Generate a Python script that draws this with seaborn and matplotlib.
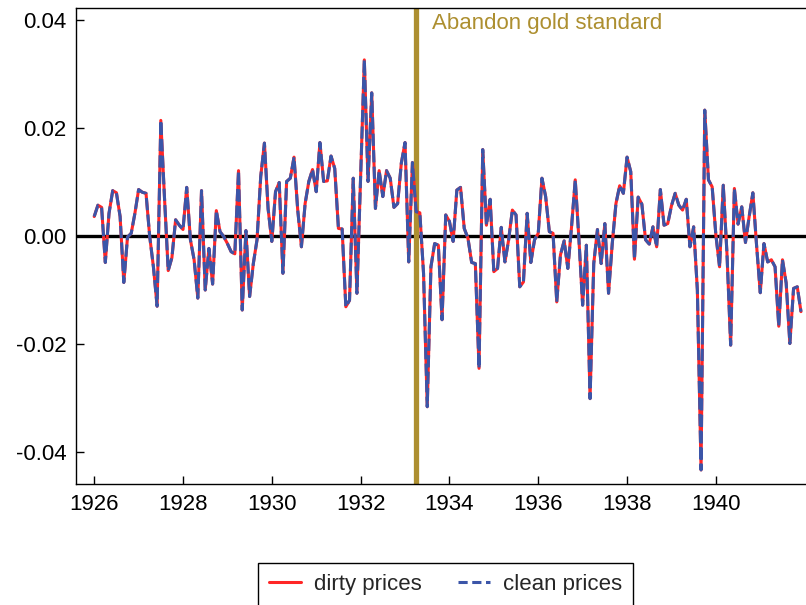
import numpy as np
import pandas as pd
import matplotlib
matplotlib.use('Agg')
import matplotlib.pyplot as plt
from matplotlib.lines import Line2D
import seaborn as sns

# Monthly inflation-style series, Jan 1926 - Dec 1941
dirty_prices = [
    0.0036, 0.0057, 0.0053, -0.0049, 0.0042, 0.0084, 0.0080, 0.0036, -0.0086, -0.0002, 0.0005, 0.0042,
    0.0086, 0.0081, 0.0079, -0.0001, -0.0057, -0.0130, 0.0214, 0.0070, -0.0064, -0.0040, 0.0030, 0.0020,
    0.0012, 0.0090, -0.0007, -0.0044, -0.0115, 0.0084, -0.0100, -0.0023, -0.0089, 0.0047, 0.0008, -0.0001,
    -0.0014, -0.0029, -0.0033, 0.0121, -0.0137, 0.0010, -0.0112, -0.0051, -0.0007, 0.0110, 0.0172, 0.0050,
    -0.0010, 0.0082, 0.0099, -0.0069, 0.0101, 0.0107, 0.0146, 0.0048, -0.0020, 0.0060, 0.0101, 0.0123,
    0.0082, 0.0173, 0.0101, 0.0102, 0.0148, 0.0125, 0.0014, 0.0013, -0.0131, -0.0119, 0.0107, -0.0106,
    0.0110, 0.0326, 0.0101, 0.0265, 0.0051, 0.0121, 0.0073, 0.0121, 0.0107, 0.0053, 0.0060, 0.0135,
    0.0173, -0.0048, 0.0136, 0.0045, 0.0043, -0.0069, -0.0316, -0.0057, -0.0014, -0.0017, -0.0155, 0.0039,
    0.0027, -0.0010, 0.0085, 0.0090, 0.0014, -0.0004, -0.0049, -0.0051, -0.0245, 0.0160, 0.0020, 0.0068,
    -0.0066, -0.0060, 0.0016, -0.0048, -0.0007, 0.0048, 0.0039, -0.0094, -0.0085, 0.0042, -0.0049, -0.0007,
    0.0005, 0.0107, 0.0073, 0.0008, 0.0005, -0.0122, -0.0035, -0.0009, -0.0060, 0.0017, 0.0104, -0.0007,
    -0.0128, -0.0017, -0.0301, -0.0051, 0.0012, -0.0051, 0.0023, -0.0106, -0.0014, 0.0060, 0.0093, 0.0079,
    0.0146, 0.0119, -0.0043, 0.0072, 0.0059, -0.0007, -0.0015, 0.0017, -0.0020, 0.0086, 0.0020, 0.0023,
    0.0056, 0.0079, 0.0057, 0.0048, 0.0068, -0.0020, 0.0017, -0.0100, -0.0433, 0.0233, 0.0104, 0.0091,
    0.0002, -0.0057, 0.0094, -0.0032, -0.0202, 0.0088, 0.0022, 0.0054, -0.0012, 0.0036, 0.0080, -0.0017,
    -0.0105, -0.0014, -0.0048, -0.0044, -0.0057, -0.0167, -0.0044, -0.0087, -0.0199, -0.0097, -0.0094, -0.0140,
]
# the two series are indistinguishable at this scale
clean_prices = list(dirty_prices)

series_labels = ["dirty prices", "clean prices"]
year_ticks = [1926, 1928, 1930, 1932, 1934, 1936, 1938, 1940]
y_ticks = [-0.04, -0.02, 0.00, 0.02, 0.04]
gold_date = 1933.25
gold_label = "Abandon gold standard"

months = pd.date_range("1926-01-01", periods=len(dirty_prices), freq="MS")
df = pd.DataFrame({
    "t": months.year + (months.month - 1) / 12,
    "dirty": dirty_prices,
    "clean": clean_prices,
})

red = "#ff2626"
blue = "#3b55a8"
gold = "#ad8f30"

sns.set_theme(style="white")
plt.rcParams["font.family"] = ["Liberation Sans", "DejaVu Sans"]
plt.rcParams["axes.unicode_minus"] = False

fig = plt.figure(figsize=(8.06, 6.05), dpi=100)
ax = fig.add_axes([76 / 806, 121 / 605, 730 / 806, 476 / 605])

ax.axhline(0, color="black", lw=2.4, zorder=1)
ax.axvline(gold_date, color=gold, lw=3.8, zorder=1)

sns.lineplot(data=df, x="t", y="dirty", color=red, lw=2.2, ax=ax, zorder=3, legend=False)
sns.lineplot(data=df, x="t", y="clean", color=blue, lw=2.2, ax=ax, zorder=4,
             linestyle=(0, (4, 1.4)), legend=False)

ax.text(gold_date + 0.36, 0.0383, gold_label, color=gold, fontsize=16, va="baseline", ha="left")

ax.set_xlim(1925.59, 1942.03)
ax.set_ylim(-0.0459, 0.0422)
ax.set_xticks(year_ticks)
ax.set_xticklabels([str(y) for y in year_ticks])
ax.set_yticks(y_ticks)
ax.set_yticklabels([f"{v:.2f}" for v in y_ticks])
ax.set_xlabel("")
ax.set_ylabel("")
ax.tick_params(axis="both", direction="in", length=6, width=1, color="black",
               labelsize=16, labelcolor="black", pad=7)
ax.tick_params(left=True, bottom=True)

for side in ["left", "top", "bottom"]:
    ax.spines[side].set_visible(True)
    ax.spines[side].set_color("black")
    ax.spines[side].set_linewidth(1.0)
ax.spines["right"].set_visible(False)

handles = [
    Line2D([], [], color=red, lw=2.2),
    Line2D([], [], color=blue, lw=2.2, linestyle=(0, (3, 1.5))),
]
leg = fig.legend(handles, series_labels, loc="upper center", ncol=2,
                 bbox_to_anchor=(445.5 / 806, 1 - 563 / 605), fontsize=16,
                 frameon=True, fancybox=False, framealpha=1, edgecolor="black",
                 handlelength=1.45, handletextpad=0.6, columnspacing=1.6,
                 borderpad=0.5, borderaxespad=0)
leg.get_frame().set_linewidth(1.0)

fig.savefig("out.png", dpi=100)
